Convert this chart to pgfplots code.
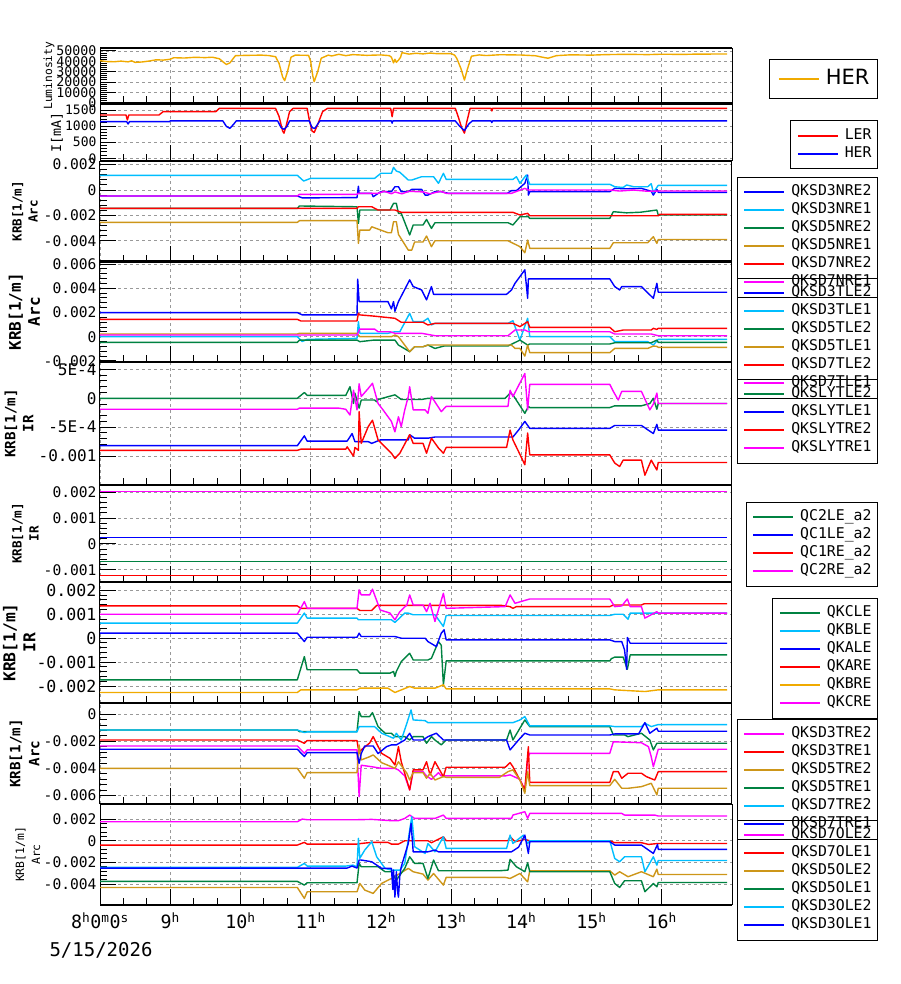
\documentclass[border=0pt]{standalone}
\usepackage{fontspec}
\setmainfont{DejaVu Sans Mono}
\newfontfamily\dvs{DejaVu Sans}
\usepackage{pgfplots}
\pgfplotsset{compat=1.18}
\definecolor{cblue}{RGB}{0,0,255}
\definecolor{ccyan}{RGB}{0,190,255}
\definecolor{cgreen}{RGB}{0,130,65}
\definecolor{cgold}{RGB}{205,150,25}
\definecolor{corange}{RGB}{240,170,0}
\definecolor{cred}{RGB}{255,0,0}
\definecolor{cmag}{RGB}{255,0,255}
\newcommand{\fs}[2]{\fontsize{#1}{#2}\selectfont}
\newcommand{\sps}[1]{\textsuperscript{#1}}
\pgfplotsset{
  panel/.style={
    scale only axis, width=632pt, anchor=north west,
    xmin=8, xmax=17, xtick={8,9,...,16}, xticklabels={},
    minor x tick num=2, minor y tick num=4,
    xtick pos=left, ytick pos=left,
    tick align=inside, scaled y ticks=false,
    major tick length=16pt, minor tick length=7pt,
    every tick/.style={black, line width=1pt},
    grid=major, grid style={gray!80, line width=0.8pt, dash pattern=on 3pt off 3pt},
    separate axis lines,
    x axis line style={line width=2.5pt},
    y axis line style={line width=1pt},
    tick label style={font=\fs{14.6}{17}},
    every axis plot/.append style={line width=1.4pt, no markers, line join=round},
    legend cell align=left,
    legend style={anchor=north east, draw=black, line width=1pt, fill=none,
      font=\fs{14.8}{17.8}, inner sep=6pt, row sep=0pt, column sep=6pt,
      nodes={inner sep=0pt, text height=12.5pt, text depth=5.5pt}},
    legend image code/.code={\draw[line width=2pt,##1] (0pt,0pt) -- (40pt,0pt);},
    ylabel style={align=center, anchor=center},
  },
}
\begin{document}
\begin{tikzpicture}
\useasboundingbox (0,0) rectangle (900pt,-984pt);
% ---------------- Panel 1: Luminosity
\begin{axis}[panel, at={(100pt,-48pt)}, height=55.5pt,
  ymin=-770, ymax=52900, ytick={0,10000,20000,30000,40000,50000},
  yticklabels={0,10000,20000,30000,40000,50000},
  tick label style={font=\fs{13.3}{15}},
  ylabel={Luminosity}, ylabel style={font=\fs{11.3}{13}, at={(axis description cs:-0.0807,0.5)}},
  legend style={at={(axis description cs:1.231,0.802)}, font=\dvs\fs{21}{25}, inner sep=8pt,
    nodes={inner sep=0pt, text height=17pt, text depth=6pt}}]
\addplot[corange] coordinates {(8,40600)(8.1,39800)(8.2,39600)(8.3,40200)(8.4,39500)(8.45,40500)(8.5,39000)(8.6,39400)(8.7,40300)(8.8,41500)(8.9,41200)(9.0,42000)(9.05,43500)(9.2,43200)(9.35,43900)(9.5,43600)(9.6,44000)(9.7,42500)(9.77,38500)(9.8,37000)(9.85,38500)(9.9,43000)(9.93,45500)(10.1,45800)(10.3,46000)(10.4,45600)(10.5,44500)(10.55,38000)(10.6,25000)(10.63,21300)(10.67,30000)(10.72,44000)(10.78,46000)(10.97,45800)(11.0,40000)(11.03,26000)(11.05,20300)(11.1,30000)(11.15,43000)(11.25,46000)(11.3,45200)(11.4,46800)(11.5,45500)(11.6,46500)(11.8,45800)(12.0,46200)(12.12,45500)(12.15,44000)(12.18,38500)(12.2,42000)(12.22,39000)(12.25,41000)(12.28,44000)(12.3,48400)(12.4,47000)(12.5,47800)(12.6,47200)(12.7,48000)(12.8,47400)(13.0,47500)(13.05,46000)(13.08,43000)(13.14,33000)(13.19,21900)(13.23,32000)(13.29,45000)(13.4,46200)(13.5,45600)(13.7,46400)(14.0,46100)(14.2,45400)(14.3,44000)(14.38,43000)(14.5,45500)(14.7,46300)(15.0,46000)(15.2,46500)(15.5,46800)(15.8,46500)(16.0,46900)(16.3,46700)(16.5,47000)(16.93,47100)};
\legend{HER}
\end{axis}
% ---------------- Panel 2: Current
\begin{axis}[panel, at={(100pt,-103.5pt)}, height=57.5pt,
  ymin=-84, ymax=1702, ytick={0,500,1000,1500}, yticklabels={0,500,1000,1500},
  tick label style={font=\fs{13}{15}},
  ylabel={I[mA]}, ylabel style={font=\fs{13.3}{16}, at={(axis description cs:-0.068,0.5)}},
  legend style={at={(axis description cs:1.231,0.713)}}]
\addplot[cred] coordinates {(8,1345)(8.37,1345)(8.39,1190)(8.41,1345)(8.84,1345)(8.9,1450)(9.65,1450)(9.7,1550)(10.5,1550)(10.55,1300)(10.6,850)(10.62,780)(10.65,1000)(10.7,1450)(10.75,1550)(10.95,1550)(10.98,1200)(11.02,850)(11.05,800)(11.1,1050)(11.17,1450)(11.24,1550)(12.14,1550)(12.16,1290)(12.18,1550)(13.06,1550)(13.1,1300)(13.15,950)(13.19,780)(13.22,1100)(13.27,1550)(13.57,1550)(13.58,1470)(13.59,1550)(16.93,1550)};
\addplot[cblue] coordinates {(8,1138)(8.38,1138)(8.4,1065)(8.42,1138)(8.99,1138)(9.0,1160)(9.75,1160)(9.8,990)(9.85,930)(9.9,1050)(9.94,1160)(10.53,1160)(10.58,950)(10.62,900)(10.66,980)(10.7,1160)(10.98,1160)(11.02,950)(11.06,930)(11.1,1060)(11.13,1160)(12.15,1160)(12.16,1090)(12.17,1160)(13.06,1160)(13.12,1000)(13.19,860)(13.25,1060)(13.3,1160)(13.57,1160)(13.58,1110)(13.59,1160)(16.93,1160)};
\legend{LER,HER}
\end{axis}
% ---------------- Panel 3: NRE
\begin{axis}[panel, at={(100pt,-161pt)}, height=100.5pt,
  ymin=-5.64, ymax=2.29, ytick={-4,-2,0,2}, yticklabels={-0.004,-0.002,0,0.002},
  ylabel={KRB[1/m]\\Arc}, ylabel style={font=\fs{12.5}{16}\bfseries, at={(axis description cs:-0.1187,0.5)}},
  legend style={at={(axis description cs:1.231,0.841)}}]
\addplot[cblue] coordinates {(8,-0.47)(10.81,-0.47)(10.88,-0.62)(11.66,-0.6)(11.68,0.3)(11.69,-0.26)(11.87,-0.26)(11.89,-0.53)(12.0,-0.13)(12.15,-0.13)(12.2,0.26)(12.25,0.26)(12.29,-0.13)(12.39,-0.13)(12.44,0.05)(12.58,0.05)(12.63,-0.4)(12.67,-0.4)(12.77,-0.13)(12.86,-0.13)(12.96,-0.26)(13.8,-0.26)(13.86,-0.05)(13.93,-0.05)(14.05,0.53)(14.09,1.18)(14.1,-0.4)(14.12,-0.13)(15.26,-0.13)(15.33,0.13)(15.5,0.1)(15.71,0.13)(15.85,-0.1)(15.88,-0.4)(15.93,0.05)(15.95,-0.18)(16.93,-0.18)};
\addplot[ccyan] coordinates {(8,1.16)(10.81,1.16)(10.9,0.71)(11.0,0.92)(11.91,0.92)(12.0,1.32)(12.15,1.32)(12.18,1.79)(12.22,1.5)(12.27,1.4)(12.39,0.79)(12.44,0.79)(12.58,1.05)(12.75,1.05)(12.82,0.53)(12.89,1.32)(12.93,0.84)(13.88,0.84)(13.93,1.05)(13.98,0.53)(14.07,1.18)(14.12,0.45)(15.26,0.45)(15.33,0.26)(15.45,0.2)(15.5,0.4)(15.6,0.26)(15.8,0.26)(15.85,0.5)(15.88,-0.2)(15.95,0.37)(16.93,0.37)};
\addplot[cgreen] coordinates {(8,-1.45)(10.81,-1.45)(10.84,-1.26)(11.66,-1.32)(11.68,-2.63)(11.7,-1.58)(12.13,-1.58)(12.18,-1.05)(12.22,-1.05)(12.25,-1.84)(12.29,-1.84)(12.41,-3.55)(12.46,-2.76)(12.6,-2.76)(12.65,-2.32)(12.72,-3.03)(12.77,-2.58)(13.81,-2.58)(13.88,-2.76)(13.98,-2.11)(14.1,-2.11)(14.12,-2.24)(15.26,-2.24)(15.31,-1.71)(15.5,-1.8)(15.7,-1.75)(15.9,-1.6)(15.93,-1.58)(15.95,-1.97)(16.93,-1.97)};
\addplot[cgold] coordinates {(8,-2.55)(10.81,-2.55)(10.84,-2.42)(11.66,-2.42)(11.68,-4.21)(11.7,-3.16)(11.84,-3.16)(11.87,-2.9)(12.1,-3.37)(12.15,-3.37)(12.18,-2.5)(12.22,-2.5)(12.25,-3.5)(12.39,-4.74)(12.44,-4.74)(12.48,-4.1)(12.6,-4.1)(12.65,-3.63)(12.72,-4.47)(12.77,-4.0)(13.81,-4.0)(13.98,-4.47)(14.05,-4.95)(14.09,-3.95)(14.12,-4.6)(15.26,-4.6)(15.31,-4.16)(15.8,-4.16)(15.88,-3.68)(15.93,-4.21)(15.95,-3.9)(16.93,-3.9)};
\addplot[cred] coordinates {(8,-1.45)(11.66,-1.45)(11.68,-1.32)(11.87,-1.32)(11.96,-1.58)(12.2,-1.58)(12.29,-1.76)(13.88,-1.76)(13.98,-1.97)(14.09,-1.84)(14.12,-2.03)(15.95,-2.03)(15.97,-1.92)(16.93,-1.92)};
\addplot[cmag] coordinates {(8,-0.47)(10.81,-0.47)(10.84,-0.34)(11.66,-0.34)(11.68,-0.26)(11.96,-0.26)(12.05,-0.1)(12.15,-0.3)(12.2,-0.15)(12.3,-0.3)(12.4,-0.1)(12.6,-0.15)(12.7,-0.3)(12.85,-0.1)(12.93,-0.26)(13.86,-0.26)(14.05,0.13)(14.1,0)(15.26,0)(15.4,-0.08)(15.6,0.0)(15.8,-0.1)(15.95,-0.08)(16.93,-0.08)};
\legend{QKSD3NRE2,QKSD3NRE1,QKSD5NRE2,QKSD5NRE1,QKSD7NRE2,QKSD7NRE1}
\end{axis}
% ---------------- Panel 4: TLE
\begin{axis}[panel, at={(100pt,-261.5pt)}, height=100.5pt,
  ymin=-2.09, ymax=6.21, ytick={-2,0,2,4,6}, yticklabels={-0.002,0,0.002,0.004,0.006},
  ylabel={KRB[1/m]\\Arc}, ylabel style={font=\fs{16}{19}\bfseries, at={(axis description cs:-0.1195,0.5)}},
  legend style={at={(axis description cs:1.231,0.836)}}]
\addplot[cblue] coordinates {(8,1.99)(10.81,1.99)(10.88,1.8)(11.66,1.8)(11.67,4.75)(11.69,2.9)(12.1,2.9)(12.15,2.3)(12.18,2.9)(12.2,2.1)(12.25,2.9)(12.41,4.69)(12.46,4.14)(12.58,3.86)(12.65,3.04)(12.72,4.14)(12.75,3.5)(13.79,3.5)(13.86,3.86)(13.91,4.41)(14.05,5.52)(14.09,3.17)(14.1,4.77)(15.26,4.77)(15.33,4.14)(15.4,3.86)(15.43,4.14)(15.71,4.14)(15.88,3.17)(15.93,4.41)(15.95,3.67)(16.93,3.67)};
\addplot[ccyan] coordinates {(8,0)(10.81,0)(10.88,-0.4)(10.95,-0.22)(11.66,-0.14)(11.68,1.24)(11.7,0.28)(12.1,0.28)(12.2,0.41)(12.27,0.41)(12.41,1.93)(12.46,1.24)(12.6,1.24)(12.67,1.52)(12.72,0.97)(12.77,1.1)(13.81,1.1)(13.88,1.32)(13.98,-0.28)(14.03,0.55)(14.09,1.52)(14.12,0)(15.26,0)(15.33,-0.41)(15.8,-0.41)(15.88,-0.69)(15.95,-0.22)(16.93,-0.22)};
\addplot[cgreen] coordinates {(8,-0.47)(10.81,-0.47)(10.84,-0.28)(11.66,-0.28)(11.7,-0.41)(11.9,-0.28)(12.2,-0.28)(12.25,-0.69)(12.41,-1.24)(12.48,-0.83)(12.6,-0.83)(12.67,-0.69)(12.77,-0.97)(12.9,-0.77)(13.81,-0.77)(13.98,-0.28)(14.09,-0.69)(14.12,-0.6)(15.26,-0.6)(15.33,-0.5)(15.85,-0.5)(15.93,-0.28)(15.95,-0.47)(16.93,-0.47)};
\addplot[cgold] coordinates {(8,0.22)(10.81,0.22)(10.84,0.28)(11.66,0.28)(11.7,0)(12.15,0)(12.2,0.14)(12.25,0)(12.41,-1.24)(12.48,-0.83)(12.6,-0.83)(12.67,-0.69)(13.86,-0.69)(13.91,-0.97)(13.98,-0.97)(14.05,-1.6)(14.09,-0.69)(14.12,-1.32)(15.26,-1.32)(15.33,-0.97)(15.8,-0.97)(15.88,-0.77)(15.93,-0.8)(15.95,-0.88)(16.93,-0.88)};
\addplot[cred] coordinates {(8,1.43)(10.81,1.43)(10.86,1.3)(11.66,1.3)(11.68,1.93)(11.7,1.8)(11.9,1.7)(12.2,1.52)(12.29,1.19)(12.6,1.19)(12.67,0.97)(12.77,1.1)(13.88,1.1)(13.98,0.83)(14.09,1.24)(14.12,0.77)(15.26,0.77)(15.33,0.41)(15.45,0.55)(15.85,0.55)(15.88,0.69)(15.93,0.6)(15.95,0.69)(16.93,0.69)};
\addplot[cmag] coordinates {(8,0.14)(11.66,0.14)(11.7,0.63)(11.91,0.63)(11.96,0.41)(12.13,0.41)(12.2,0.28)(12.58,0.28)(12.77,0.08)(13.81,0.08)(13.91,0.55)(14.05,0.55)(14.1,0.41)(15.26,0.41)(15.33,0.22)(15.85,0.22)(15.95,0.08)(16.93,0.08)};
\legend{QKSD3TLE2,QKSD3TLE1,QKSD5TLE2,QKSD5TLE1,QKSD7TLE2,QKSD7TLE1}
\end{axis}
% ---------------- Panel 5: SLY
\begin{axis}[panel, at={(100pt,-362pt)}, height=123pt,
  ymin=-1.5, ymax=0.628, ytick={-1,-0.5,0,0.5}, yticklabels={-0.001,-5E-4,0,5E-4},
  tick label style={font=\fs{16}{18}},
  ylabel={KRB[1/m]\\IR}, ylabel style={font=\fs{14.2}{18}\bfseries, at={(axis description cs:-0.128,0.5)}},
  legend style={at={(axis description cs:1.231,0.862)}}]
\addplot[cgreen] coordinates {(8,0)(10.81,0)(10.91,0.1)(10.95,0.05)(11.5,0.05)(11.56,0.2)(11.61,-0.09)(11.63,0.09)(11.69,-0.17)(11.72,-0.03)(11.91,-0.03)(11.94,-0.06)(11.96,-0.02)(12.2,0.06)(12.29,-0.02)(12.58,-0.02)(12.67,0)(13.77,0)(13.84,0.09)(13.88,0.06)(13.96,-0.09)(14.05,-0.26)(14.1,-0.14)(14.12,-0.16)(15.26,-0.16)(15.33,-0.13)(15.71,-0.13)(15.83,-0.09)(15.88,0)(15.93,-0.19)(15.95,-0.09)(16.93,-0.09)};
\addplot[cblue] coordinates {(8,-0.82)(10.81,-0.82)(10.91,-0.65)(10.95,-0.74)(11.52,-0.74)(11.59,-0.61)(11.63,-0.75)(11.82,-0.75)(11.87,-0.78)(11.99,-0.72)(12.39,-0.72)(12.41,-0.63)(12.48,-0.69)(12.67,-0.69)(12.77,-0.67)(13.88,-0.67)(13.96,-0.55)(14.05,-0.4)(14.12,-0.52)(15.26,-0.52)(15.33,-0.47)(15.71,-0.47)(15.88,-0.61)(15.93,-0.45)(15.95,-0.55)(16.93,-0.55)};
\addplot[cred] coordinates {(8,-0.9)(10.81,-0.9)(10.86,-0.88)(11.5,-0.88)(11.52,-0.84)(11.61,-1.0)(11.63,-0.85)(11.68,-0.9)(11.69,-0.23)(11.72,-0.78)(11.82,-0.49)(11.88,-0.38)(11.96,-0.72)(12.15,-0.95)(12.2,-1.04)(12.27,-0.95)(12.41,-0.63)(12.46,-0.78)(12.6,-0.78)(12.65,-0.95)(12.72,-0.69)(12.82,-0.86)(12.89,-0.95)(12.93,-0.85)(13.79,-0.85)(13.84,-0.55)(13.88,-0.72)(13.96,-0.92)(14.05,-1.15)(14.09,-0.6)(14.12,-0.98)(15.26,-0.98)(15.33,-1.12)(15.4,-1.18)(15.45,-1.07)(15.71,-1.07)(15.76,-1.33)(15.85,-1.07)(15.93,-1.24)(15.95,-1.11)(16.93,-1.11)};
\addplot[cmag] coordinates {(8,-0.19)(10.81,-0.19)(10.84,-0.17)(11.4,-0.17)(11.5,-0.19)(11.56,-0.29)(11.61,0.14)(11.66,-0.2)(11.69,0.25)(11.72,0.03)(11.82,0.17)(11.88,0.26)(11.96,-0.09)(12.03,-0.2)(12.15,-0.4)(12.2,-0.58)(12.25,-0.32)(12.29,-0.49)(12.34,-0.2)(12.39,0.03)(12.41,0.2)(12.46,-0.2)(12.63,-0.2)(12.67,-0.26)(12.72,0.03)(12.86,-0.23)(12.93,-0.14)(13.81,-0.14)(13.84,0.14)(13.88,0.03)(14.05,0.43)(14.09,-0.2)(14.12,0.24)(15.26,0.24)(15.31,0.12)(15.38,-0.03)(15.43,0.12)(15.71,0.12)(15.83,-0.2)(15.88,-0.1)(15.93,0.09)(15.95,-0.09)(16.93,-0.09)};
\legend{QKSLYTLE2,QKSLYTLE1,QKSLYTRE2,QKSLYTRE1}
\end{axis}
% ---------------- Panel 6: QC
\begin{axis}[panel, at={(100pt,-485pt)}, height=97pt,
  ymin=-1.47, ymax=2.28, ytick={-1,0,1,2}, yticklabels={-0.001,0,0.001,0.002},
  ylabel={KRB[1/m]\\IR}, ylabel style={font=\fs{12.6}{17}\bfseries, at={(axis description cs:-0.118,0.5)}},
  legend style={at={(axis description cs:1.231,0.828)}}]
\addplot[cgreen] coordinates {(8,-0.67)(16.93,-0.67)};
\addplot[cblue] coordinates {(8,0.257)(16.93,0.257)};
\addplot[cred] coordinates {(8,-1.22)(16.93,-1.22)};
\addplot[cmag] coordinates {(8,2.02)(16.93,2.02)};
\legend{QC2LE\_a2,QC1LE\_a2,QC1RE\_a2,QC2RE\_a2}
\end{axis}
% ---------------- Panel 7: QK
\begin{axis}[panel, at={(100pt,-582pt)}, height=121pt,
  ymin=-2.71, ymax=2.35, ytick={-2,-1,0,1,2}, yticklabels={-0.002,-0.001,0,0.001,0.002},
  tick label style={font=\fs{16.6}{19}},
  ylabel={KRB[1/m]\\IR}, ylabel style={font=\fs{16.3}{20}\bfseries, at={(axis description cs:-0.128,0.5)}},
  legend style={at={(axis description cs:1.231,0.868)}}]
\addplot[cgreen] coordinates {(8,-1.74)(10.81,-1.74)(10.91,-0.77)(10.95,-1.32)(11.66,-1.32)(11.7,-1.46)(12.13,-1.46)(12.18,-1.39)(12.2,-1.6)(12.22,-1.39)(12.29,-0.98)(12.41,-0.63)(12.46,-0.91)(12.67,-0.91)(12.72,-0.84)(12.82,-0.14)(12.86,-0.3)(12.89,-1.95)(12.93,-0.95)(15.26,-0.95)(15.28,-0.86)(15.33,-0.79)(15.45,-0.79)(15.51,-1.3)(15.55,-0.7)(16.93,-0.7)};
\addplot[ccyan] coordinates {(8,0.63)(10.81,0.63)(10.91,1.05)(10.95,0.84)(11.66,0.84)(11.68,0.77)(12.15,0.77)(12.2,0.66)(12.34,1.05)(12.39,1.05)(12.46,0.98)(12.77,0.98)(12.89,0.49)(12.93,0.95)(15.26,0.95)(15.33,1.0)(15.45,1.0)(15.52,0.79)(15.55,1.05)(16.93,1.05)};
\addplot[cblue] coordinates {(8,0.21)(10.81,0.21)(10.91,-0.14)(10.95,0.04)(11.66,0.04)(11.69,0.21)(11.72,0.07)(12.2,0.07)(12.29,0)(12.63,0)(12.67,-0.14)(12.79,-0.35)(12.86,0.21)(12.9,0.35)(12.93,-0.07)(15.26,-0.07)(15.33,-0.14)(15.43,-0.14)(15.47,-0.49)(15.5,-1.3)(15.51,0.03)(15.55,-0.21)(16.93,-0.21)};
\addplot[cred] coordinates {(8,1.35)(10.81,1.35)(10.86,1.25)(11.66,1.25)(11.7,1.16)(11.87,1.16)(11.94,1.37)(13.72,1.37)(13.84,1.32)(13.88,1.25)(13.93,1.32)(15.26,1.32)(15.31,1.39)(15.71,1.39)(15.75,1.44)(16.93,1.44)};
\addplot[corange] coordinates {(8,-2.27)(10.81,-2.27)(10.86,-2.16)(11.66,-2.16)(11.7,-2.09)(12.1,-2.09)(12.2,-2.27)(12.41,-2.02)(12.48,-2.09)(12.77,-2.09)(12.89,-1.95)(12.93,-2.12)(15.26,-2.12)(15.33,-2.16)(15.76,-2.23)(15.95,-2.16)(16.93,-2.16)};
\addplot[cmag] coordinates {(8,1.0)(10.81,1.0)(10.91,1.53)(10.95,1.25)(11.66,1.25)(11.69,2.02)(11.72,1.81)(11.84,1.81)(11.88,2.05)(11.99,1.18)(12.13,1.05)(12.2,0.77)(12.27,1.11)(12.37,1.39)(12.41,1.81)(12.46,1.39)(12.6,1.39)(12.65,1.11)(12.7,1.46)(12.77,0.7)(12.89,1.88)(12.93,1.25)(13.77,1.32)(13.84,1.81)(13.91,1.46)(14.12,1.64)(15.26,1.64)(15.33,1.32)(15.43,1.35)(15.51,1.64)(15.55,1.32)(15.71,1.32)(15.76,0.84)(15.93,1.11)(15.95,1.05)(16.93,1.05)};
\legend{QKCLE,QKBLE,QKALE,QKARE,QKBRE,QKCRE}
\end{axis}
% ---------------- Panel 8: TRE
\begin{axis}[panel, at={(100pt,-703pt)}, height=101pt,
  ymin=-6.62, ymax=0.83, ytick={-6,-4,-2,0}, yticklabels={-0.006,-0.004,-0.002,0},
  ylabel={KRB[1/m]\\Arc}, ylabel style={font=\fs{14.2}{19}\bfseries, at={(axis description cs:-0.1195,0.5)}},
  legend style={at={(axis description cs:1.231,0.842)}}]
\addplot[cmag] coordinates {(8,-2.34)(10.81,-2.34)(10.91,-2.88)(10.95,-2.63)(11.66,-2.63)(11.69,-6.08)(11.72,-3.76)(11.87,-3.87)(12.01,-3.99)(12.2,-3.99)(12.25,-4.11)(12.34,-4.55)(12.41,-5.58)(12.46,-4.23)(12.6,-4.23)(12.65,-4.55)(12.72,-4.8)(12.82,-4.31)(12.86,-4.55)(13.77,-4.55)(13.84,-4.47)(13.98,-4.8)(14.05,-5.58)(14.09,-3.25)(14.12,-2.88)(15.26,-2.88)(15.31,-2.03)(15.71,-2.1)(15.81,-2.39)(15.85,-3.13)(15.88,-3.87)(15.95,-2.58)(16.93,-2.58)};
\addplot[cred] coordinates {(8,-1.9)(10.81,-1.9)(10.91,-2.14)(10.95,-1.94)(11.66,-1.94)(11.69,-2.88)(11.72,-2.63)(11.84,-2.12)(11.89,-1.65)(12.01,-2.88)(12.13,-3.25)(12.2,-3.74)(12.25,-2.39)(12.29,-3.5)(12.41,-5.58)(12.46,-4.1)(12.6,-4.1)(12.65,-3.5)(12.7,-4.48)(12.77,-3.5)(12.89,-4.6)(12.93,-3.91)(13.77,-3.91)(13.84,-3.57)(13.88,-3.87)(13.98,-4.85)(14.05,-5.58)(14.1,-2.39)(14.12,-5.02)(15.26,-5.02)(15.31,-4.23)(15.38,-4.23)(15.43,-4.72)(15.52,-4.35)(15.71,-4.35)(15.78,-4.6)(15.9,-4.85)(15.95,-4.23)(16.93,-4.23)};
\addplot[cgold] coordinates {(8,-3.99)(10.81,-3.99)(10.91,-4.72)(10.95,-4.3)(11.66,-4.3)(11.69,-2.26)(11.72,-3.37)(11.84,-3.13)(11.89,-3.0)(12.01,-3.57)(12.15,-3.87)(12.2,-3.99)(12.25,-3.5)(12.37,-4.35)(12.41,-4.85)(12.46,-4.3)(12.6,-4.3)(12.65,-4.72)(12.7,-4.35)(12.77,-4.85)(12.89,-4.6)(12.93,-4.65)(13.69,-4.65)(13.81,-4.23)(13.88,-4.1)(13.98,-4.85)(14.05,-5.83)(14.09,-4.23)(14.12,-5.26)(15.26,-5.26)(15.33,-4.8)(15.43,-5.46)(15.52,-5.46)(15.71,-5.34)(15.85,-5.09)(15.93,-5.95)(15.95,-5.46)(16.93,-5.46)};
\addplot[cgreen] coordinates {(8,-1.16)(10.81,-1.16)(10.84,-1.28)(11.66,-1.28)(11.69,0.2)(11.72,-0.17)(11.84,-0.17)(11.88,0.12)(11.96,-0.91)(12.06,-1.4)(12.15,-1.4)(12.2,-1.65)(12.34,-1.65)(12.41,-1.9)(12.46,-1.65)(12.6,-1.65)(12.65,-2.14)(12.72,-1.65)(12.77,-1.9)(12.86,-2.26)(12.93,-1.9)(13.79,-1.9)(13.84,-1.16)(13.88,-1.9)(14.05,-0.42)(14.12,-0.91)(15.26,-0.91)(15.31,-1.53)(15.47,-1.53)(15.52,-1.65)(15.71,-1.4)(15.83,-1.9)(15.88,-2.63)(15.93,-2.14)(16.93,-2.14)};
\addplot[ccyan] coordinates {(8,-1.16)(10.81,-1.16)(10.91,-1.35)(10.95,-1.3)(11.66,-1.3)(11.69,-0.91)(11.91,-0.91)(12.01,-1.4)(12.18,-1.77)(12.22,-1.4)(12.29,-1.9)(12.37,-0.66)(12.43,0.32)(12.46,-0.42)(12.63,-0.47)(12.67,-0.62)(13.88,-0.62)(13.98,-0.42)(14.05,-0.17)(14.12,-0.86)(15.26,-0.86)(15.33,-0.91)(15.71,-0.91)(15.76,-0.66)(15.85,-0.91)(15.95,-0.76)(16.93,-0.76)};
\addplot[cblue] coordinates {(8,-2.58)(10.81,-2.58)(10.91,-3.12)(10.95,-2.83)(11.66,-2.83)(11.69,-3.62)(11.72,-2.9)(11.77,-2.34)(11.89,-2.34)(11.96,-2.9)(12.08,-2.39)(12.15,-2.26)(12.22,-2.26)(12.34,-1.9)(12.41,-1.4)(12.46,-1.9)(12.6,-1.9)(12.67,-1.65)(12.79,-1.4)(12.89,-1.9)(13.79,-1.9)(13.84,-2.63)(13.96,-1.9)(14.05,-1.4)(14.12,-1.53)(15.26,-1.53)(15.33,-1.45)(15.67,-1.45)(15.76,-0.62)(15.83,-1.4)(15.93,-1.03)(15.95,-1.25)(16.93,-1.25)};
\legend{QKSD3TRE2,QKSD3TRE1,QKSD5TRE2,QKSD5TRE1,QKSD7TRE2,QKSD7TRE1}
\end{axis}
% ---------------- Panel 9: OLE
\begin{axis}[panel, at={(100pt,-804pt)}, height=101pt,
  ymin=-5.93, ymax=3.39, ytick={-4,-2,0,2}, yticklabels={-0.004,-0.002,0,0.002},
  xticklabels={8\sps{h}0\sps{m}0\sps{s},9\sps{h},10\sps{h},11\sps{h},12\sps{h},13\sps{h},14\sps{h},15\sps{h},16\sps{h}},
  xticklabel style={font=\fs{18.3}{20}, yshift=-4pt},
  ylabel={KRB[1/m]\\Arc}, ylabel style={font=\fs{11.4}{16}, at={(axis description cs:-0.114,0.5)}},
  legend style={at={(axis description cs:1.231,0.842)}}]
\addplot[cmag] coordinates {(8,1.75)(10.81,1.75)(10.88,2.0)(10.95,1.94)(11.66,1.94)(11.87,1.97)(12.15,1.85)(12.25,1.85)(12.34,2.06)(12.41,2.37)(12.48,2.06)(12.77,2.06)(12.89,2.37)(12.93,2.06)(13.86,2.06)(13.88,2.37)(14.05,2.68)(14.09,2.06)(14.12,2.52)(15.43,2.52)(15.47,2.37)(15.9,2.37)(15.95,2.28)(16.93,2.28)};
\addplot[cred] coordinates {(8,-0.4)(10.81,-0.4)(10.91,-0.15)(10.95,-0.31)(11.66,-0.31)(11.72,-0.25)(11.87,-0.15)(12.1,-0.15)(12.15,-0.31)(12.25,-0.31)(12.34,0)(12.67,0)(12.72,-0.18)(12.89,0.37)(12.93,0)(13.81,0)(13.84,0.37)(13.91,-0.09)(14.05,0.12)(14.12,0)(15.26,0)(15.33,-0.18)(15.71,-0.18)(15.81,-0.34)(15.95,-0.25)(16.93,-0.25)};
\addplot[cgold] coordinates {(8,-4.31)(10.81,-4.31)(10.91,-5.32)(10.95,-4.71)(11.66,-4.71)(11.7,-3.94)(11.77,-4.55)(11.89,-4.86)(12.01,-3.94)(12.15,-3.48)(12.27,-3.02)(12.39,-2.55)(12.46,-2.86)(12.6,-3.08)(12.67,-3.63)(12.75,-3.02)(12.89,-4.09)(12.93,-3.38)(13.77,-3.38)(13.84,-3.48)(13.98,-3.02)(14.09,-3.79)(14.12,-2.77)(15.26,-2.77)(15.33,-3.17)(15.4,-2.86)(15.52,-3.32)(15.71,-2.86)(15.88,-3.32)(15.93,-2.62)(15.95,-3.11)(16.93,-3.11)};
\addplot[cgreen] coordinates {(8,-3.75)(10.81,-3.75)(10.91,-4.09)(10.95,-3.88)(11.66,-3.88)(11.69,-2.09)(11.72,-2.4)(11.96,-2.4)(12.06,-2.86)(12.15,-2.86)(12.22,-3.63)(12.34,-2.55)(12.41,-1.48)(12.48,-2.09)(12.6,-2.09)(12.67,-3.48)(12.75,-1.78)(12.82,-2.77)(13.69,-2.77)(13.81,-2.71)(13.84,-1.72)(13.93,-2.4)(14.05,-2.86)(14.09,-2.03)(14.12,-2.86)(15.26,-2.86)(15.33,-3.94)(15.4,-4.31)(15.47,-3.69)(15.71,-3.69)(15.76,-4.71)(15.88,-3.94)(15.93,-4.25)(15.95,-3.85)(16.93,-3.85)};
\addplot[ccyan] coordinates {(8,-2.46)(10.81,-2.46)(10.91,-2.09)(10.95,-2.34)(11.5,-2.34)(11.6,-2.25)(11.66,-2.4)(11.68,0.22)(11.7,-1.62)(11.77,-0.86)(11.87,-0.09)(11.94,-1.48)(12.06,-2.55)(12.15,-2.71)(12.27,-2.71)(12.34,-2.09)(12.41,0.98)(12.44,2.22)(12.48,-0.55)(12.63,-1.17)(12.67,-0.25)(12.77,-1.02)(12.89,0.37)(12.93,-0.71)(13.79,-0.71)(13.84,0.52)(13.88,-0.25)(14.03,0.52)(14.09,-0.25)(14.12,0)(15.26,0)(15.33,-1.63)(15.4,-1.94)(15.47,-1.48)(15.71,-1.48)(15.76,-2.86)(15.88,-1.48)(15.93,-2.25)(15.95,-1.82)(16.93,-1.82)};
\addplot[cblue] coordinates {(8,-2.52)(11.52,-2.52)(11.59,-2.34)(11.66,-2.52)(11.69,-1.78)(11.72,-1.78)(11.87,-1.94)(12.01,-2.55)(12.15,-2.55)(12.17,-4.5)(12.18,-2.7)(12.2,-5.2)(12.22,-2.86)(12.24,-4.8)(12.25,-5.2)(12.27,-3.2)(12.29,-2.4)(12.39,-0.25)(12.43,1.6)(12.46,-1.02)(12.67,-1.02)(12.77,-0.86)(12.82,-1.02)(13.86,-1.02)(13.96,-0.6)(14.05,0.52)(14.1,-1.17)(14.12,-0.09)(15.26,-0.09)(15.33,-0.4)(15.71,-0.4)(15.88,-1.17)(15.94,-0.34)(15.95,-0.8)(16.93,-0.8)};
\legend{QKSD7OLE2,QKSD7OLE1,QKSD5OLE2,QKSD5OLE1,QKSD3OLE2,QKSD3OLE1}
\end{axis}
\node[font=\fs{19}{22}] at (101pt,-950pt) {5/15/2026};
\end{tikzpicture}
\end{document}
